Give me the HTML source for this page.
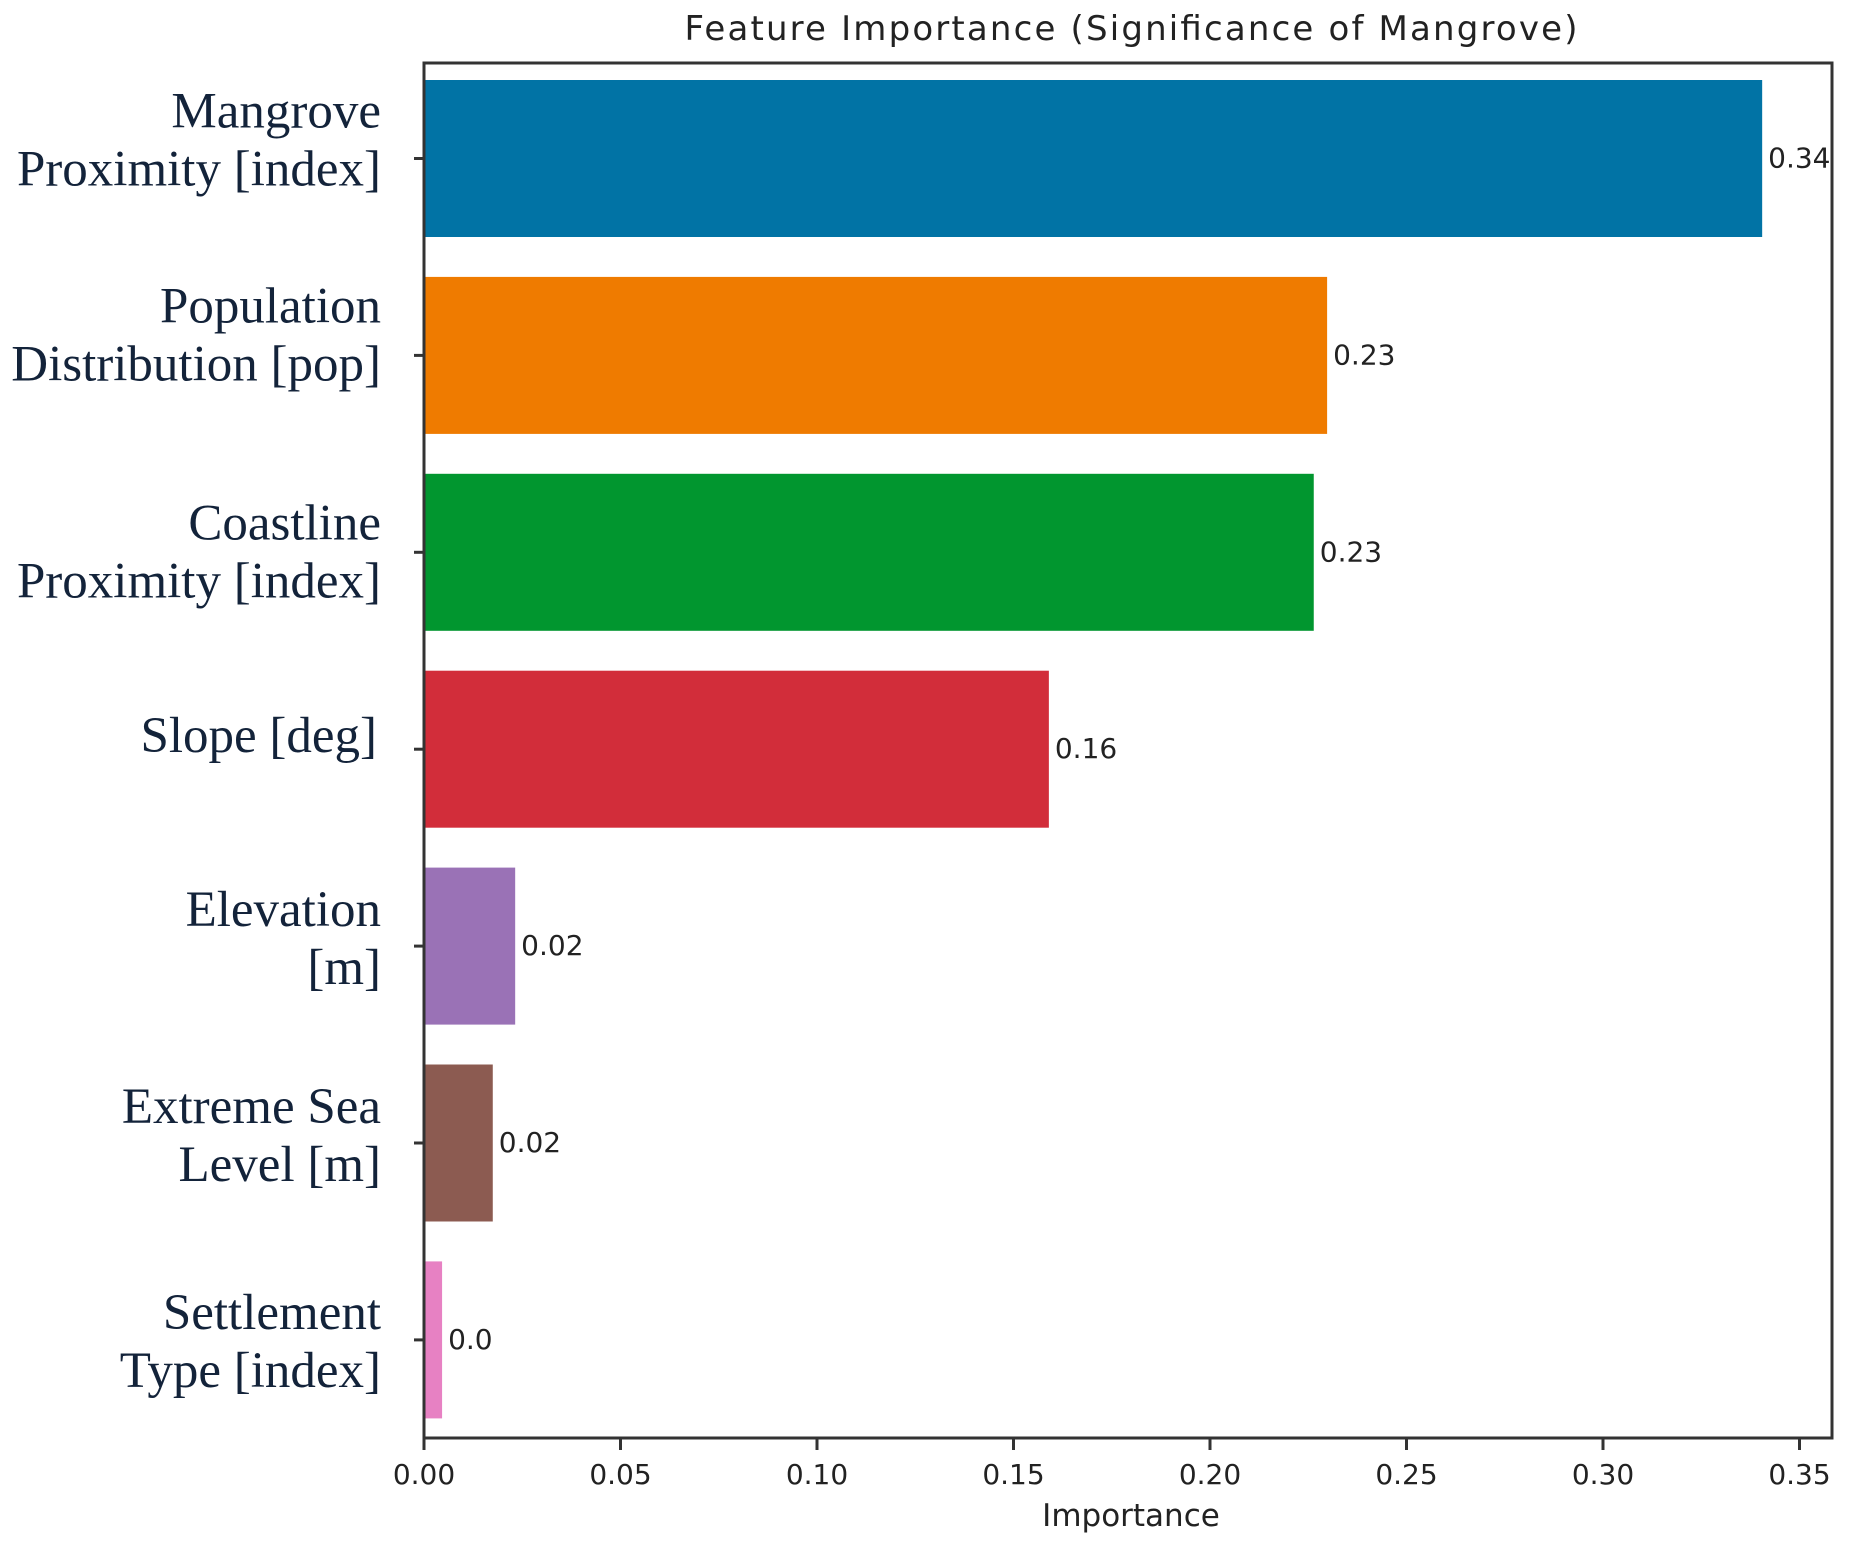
<!DOCTYPE html>
<html><head><meta charset="utf-8"><style>
html,body{margin:0;padding:0;background:#fff;}
svg{display:block;}
.tick{font-family:"DejaVu Sans","Liberation Sans",sans-serif;font-size:28px;fill:#222;}
.ylab{font-family:"Liberation Serif","DejaVu Serif",serif;font-size:51px;fill:#13233a;}
</style></head><body>
<svg id="chart" width="1852" height="1547" viewBox="0 0 1852 1547" xmlns="http://www.w3.org/2000/svg">
<rect width="1852" height="1547" fill="#fff"/>
<text x="1131" y="40" text-anchor="middle" class="tick" style="font-size:34px" textLength="893">Feature Importance (Significance of Mangrove)</text>
<text x="1131" y="1526" text-anchor="middle" class="tick" style="font-size:31px">Importance</text>
<g id="bars"></g>
<g id="ticks"></g>
<rect x="424" y="63" width="1408" height="1375" fill="none" stroke="#333" stroke-width="3"/>
</svg>
<script>
const categories = [["Mangrove","Proximity [index]"],["Population","Distribution [pop]"],["Coastline","Proximity [index]"],["Slope [deg]"],["Elevation","[m]"],["Extreme Sea","Level [m]"],["Settlement","Type [index]"]];
const values = [0.3405, 0.2298, 0.2264, 0.159, 0.0232, 0.0175, 0.0046];
const valueLabels = ["0.34","0.23","0.23","0.16","0.02","0.02","0.0"];
const colors = ["#0173a5","#ef7b00","#01962f","#d22d3a","#9a72b6","#8c5b51","#e781c3"];
const xTicks = [0,0.05,0.10,0.15,0.20,0.25,0.30,0.35];
const xTickLabels = ["0.00","0.05","0.10","0.15","0.20","0.25","0.30","0.35"];
const labelShift = [0,-2,18,5,11,11,20];
const NS="http://www.w3.org/2000/svg";
const X0=424, XPER=3930, Y0=158.5, STEP=196.9, BH=157;
function xs(v){return X0+v*XPER;}
function ys(i){return Y0+i*STEP;}
const bars=document.getElementById('bars'), ticks=document.getElementById('ticks');
values.forEach((v,i)=>{
  const r=document.createElementNS(NS,'rect');
  r.setAttribute('x',X0);r.setAttribute('y',ys(i)-BH/2);
  r.setAttribute('width',xs(v)-X0);r.setAttribute('height',BH);
  r.setAttribute('fill',colors[i]);
  
  
  bars.appendChild(r);
  const t=document.createElementNS(NS,'text');
  t.setAttribute('x',xs(v)+6);t.setAttribute('y',ys(i)+9);
  t.setAttribute('class','tick');t.textContent=valueLabels[i];
  
  
  bars.appendChild(t);
  const tk=document.createElementNS(NS,'line');
  tk.setAttribute('x1',X0-10);tk.setAttribute('x2',X0);tk.setAttribute('y1',ys(i));tk.setAttribute('y2',ys(i));
  tk.setAttribute('stroke','#333');tk.setAttribute('stroke-width','3');
  
  
  ticks.appendChild(tk);
  const lines=categories[i];
  const lab=document.createElementNS(NS,'text');
  lab.setAttribute('class','ylab');lab.setAttribute('text-anchor','end');
  
  
  const sh=labelShift[i]||0;
  if(lines.length===1){
    lab.setAttribute('x',377);lab.setAttribute('y',ys(i)-2+sh);lab.textContent=lines[0];
  } else {
    lines.forEach((s,k)=>{
      const ts=document.createElementNS(NS,'tspan');
      ts.setAttribute('x',381);ts.setAttribute('y',ys(i)-31+sh+k*58);ts.textContent=s;
      lab.appendChild(ts);
    });
  }
  ticks.appendChild(lab);
});
xTicks.forEach((v,i)=>{
  const tk=document.createElementNS(NS,'line');
  tk.setAttribute('x1',xs(v));tk.setAttribute('x2',xs(v));tk.setAttribute('y1',1438);tk.setAttribute('y2',1450);
  tk.setAttribute('stroke','#333');tk.setAttribute('stroke-width','3');
  
  
  ticks.appendChild(tk);
  const t=document.createElementNS(NS,'text');
  t.setAttribute('x',xs(v));t.setAttribute('y',1484);t.setAttribute('text-anchor','middle');
  t.setAttribute('class','tick');t.textContent=xTickLabels[i];
  
  
  ticks.appendChild(tk.nextSibling?t:t);
});
</script>
</body></html>
